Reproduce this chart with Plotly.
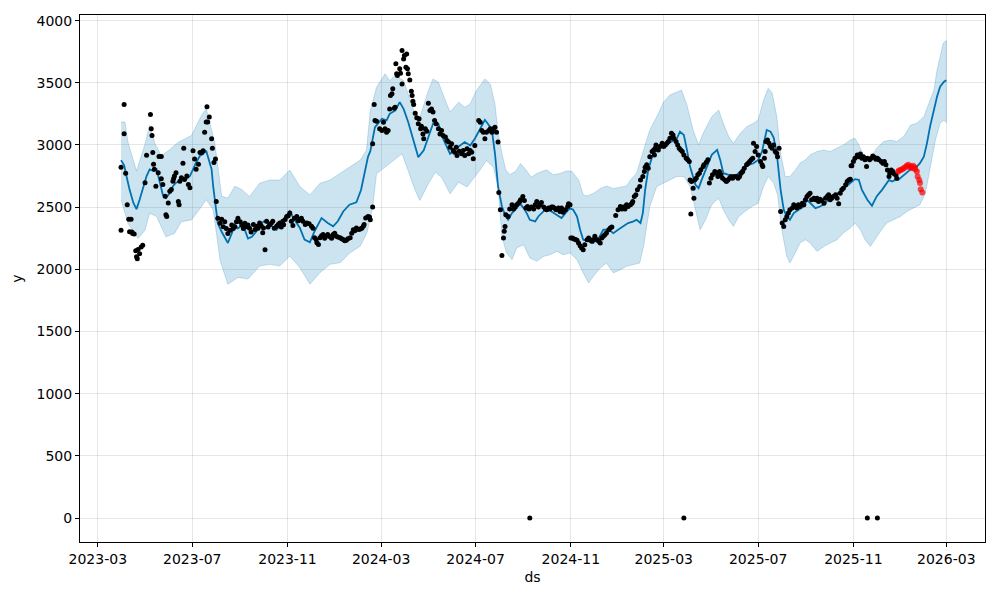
import pandas as pd
import plotly.graph_objects as go

BASE = "2023-03-01"  # day offsets below are counted from this date

# observed history points: (day offset, value)
observed = [
(30,2315),(30,2820),(34,3326),(34,3090),(36,2772),(38,2519),(40,2402),(41,2302),(43,2402),(44,2300),(45,2288),(47,2283),(49,2150),(50,2100),(51,2084),(52,2160),(54,2125),(56,2180),(58,2193),(61,2696),(63,2918),(68,3245),(69,3130),(70,3076),(71,2940),(72,2845),(73,2804),(75,2668),(78,2777),(79,2908),(82,2908),(82,2728),(84,2682),(87,2587),(88,2438),(89,2424),(91,2533),(93,2628),(95,2641),(97,2709),(98,2730),(99,2750),(101,2777),(104,2546),(105,2519),(106,2709),(108,2736),(110,2853),(111,2973),(112,2723),(115,2750),(117,2682),(119,2655),(123,2954),(125,2886),(127,2804),(130,2845),(132,2940),(134,2940),(136,2954),(138,3103),(140,3185),(141,3307),(142,3185),(144,3225),(147,3049),(148,2973),(150,2859),(152,2886),(153,2546),
(155,2410),(158,2370),(160,2402),(162,2342),(164,2383),(166,2329),(168,2288),(171,2315),(173,2356),(175,2329),(177,2342),(179,2383),(181,2410),(184,2383),(186,2356),(188,2329),(190,2370),(192,2342),(194,2356),
(196,2330),(198,2300),(201,2360),(203,2320),(205,2346),(207,2330),(209,2372),(211,2350),(213,2293),(214,2332),(216,2157),(218,2386),(220,2340),(222,2359),(224,2370),(226,2386),(228,2330),(231,2346),(233,2360),(235,2372),(237,2340),(239,2386),(240,2359),(242,2400),(244,2425),(246,2430),(248,2452),(250,2386),(252,2352),(254,2410),(257,2425),(259,2390),(261,2399),(263,2410),(265,2386),(268,2360),(270,2372),(273,2366),(276,2346),(278,2330),(280,2253),(282,2240),(283,2213),(285,2200),(287,2253),(289,2270),(291,2279),(293,2250),(295,2266),(297,2280),(300,2261),(302,2250),(304,2279),(306,2290),(308,2266),(310,2260),(313,2253),(315,2245),(317,2239),(319,2230),(321,2234),(323,2245),(326,2253),(328,2290),(330,2319),(332,2310),(334,2332),(337,2320),(339,2325),(341,2330),(343,2346),(344,2360),(346,2412),(349,2425),(351,2420),(352,2399),(355,2500),
(355,3009),(357,3325),(358,3197),(360,3190),(364,3130),(367,3116),(369,3183),(371,3130),(373,3103),(375,3116),(377,3290),(378,3397),(380,3411),(381,3451),(383,3296),(384,3304),(385,3652),(386,3572),(387,3558),(390,3612),(391,3577),(393,3491),(393,3759),(395,3692),(396,3719),(398,3625),(399,3732),(400,3612),(401,3572),(403,3523),(405,3432),(406,3397),(407,3352),(408,3325),(410,3255),(412,3218),(414,3170),(415,3210),(417,3130),(418,3150),(420,3089),(421,3049),(423,3130),(425,3110),(427,3336),(429,3277),(431,3290),(433,3264),(435,3197),(437,3170),(440,3130),(442,3089),(444,3116),(446,3076),(449,3063),(451,3036),(453,3023),(455,2982),(457,3009),(459,2956),(461,2942),(463,2982),(464,2915),(467,2950),(470,2929),(472,2956),(474,2915),(477,2969),(479,2929),(481,2956),(483,2942),(485,2889),(487,2996),(492,3197),(494,3183),(496,3116),(498,3103),(500,3049),(502,3103),(505,3116),(507,3130),(509,3103),(511,3130),(513,3143),(515,3103),(517,3023),
(518,2618),(520,2479),(522,2110),(524,2251),(525,2305),(526,2345),(527,2438),(530,2425),(532,2484),(535,2519),(537,2484),(539,2500),(541,2519),(543,2530),(545,2545),(546,2559),(549,2586),(551,2554),(553,2492),(555,2505),(557,2484),(560,2500),(563,2484),(565,2519),(567,2545),(569,2500),(571,2519),(573,2538),(576,2500),(578,2484),(580,2479),(582,2492),(584,2484),(586,2500),(588,2500),(590,2490),(592,2479),(595,2492),(597,2465),(599,2492),(601,2458),(604,2479),(607,2505),(608,2527),(610,2519),
(611,2251),(613,2251),(615,2243),(617,2240),(619,2233),(621,2211),(623,2190),(625,2171),(627,2158),(629,2198),(632,2238),(634,2251),(636,2238),(638,2225),(640,2238),(642,2265),(645,2238),(647,2225),(649,2211),(651,2251),(653,2265),(655,2278),(657,2291),(660,2318),(662,2332),(664,2340),(669,2433),(672,2479),(675,2505),(677,2484),(679,2500),(681,2484),(683,2519),(685,2505),
(688,2519),(690,2532),(691,2545),(693,2586),(695,2599),(697,2639),(700,2666),(701,2719),(704,2746),(706,2786),(707,2820),(709,2840),(711,2813),(713,2906),(716,2947),(718,2960),(719,2920),(720,2973),(721,3000),(724,2960),(726,2987),(729,3013),(731,2987),(733,3000),(735,3013),(737,3027),(739,3053),(741,3094),(743,3080),(744,3053),(747,3027),(749,3000),(751,2973),(753,2960),(755,2947),(757,2920),(760,2893),(762,2880),(764,2866),(765,2719),(766,2444),(767,2706),(769,2652),(770,2572),(771,2719),(773,2733),(775,2760),(777,2773),(779,2800),(782,2826),(783,2840),(786,2860),(788,2880),(790,2693),(792,2733),(794,2760),(797,2786),(799,2773),(801,2746),(803,2786),(805,2760),(807,2733),(810,2719),(812,2706),(814,2719),(816,2733),(818,2746),(820,2733),(822,2746),(825,2746),(827,2733),(829,2746),(831,2773),(833,2786),(835,2813),(838,2840),(840,2853),(842,2866),(844,2880),(846,2893),(847,3013),(849,2947),(851,2987),(853,2920),(856,2866),(858,2840),(859,2826),(861,2893),(862,2947),(863,3027),(865,3040),(867,3013),(869,2987),(871,2973),(873,3000),(875,2947),(877,2933),(878,2906),(880,2973),
(882,2465),(884,2372),(886,2345),(888,2398),(890,2425),(892,2452),(894,2479),(897,2492),(899,2519),(901,2505),(903,2492),(905,2519),(907,2505),(910,2532),(912,2519),(914,2559),(916,2586),(918,2599),(920,2612),(922,2559),(925,2572),(927,2559),(929,2572),(931,2545),(933,2564),(935,2553),(938,2532),(940,2572),(942,2586),(944,2599),(946,2559),(948,2572),(950,2586),(953,2599),(955,2572),(957,2527),(959,2612),(961,2639),(963,2652),(966,2679),(968,2706),(970,2719),(972,2725),(973,2832),(974,2832),(976,2866),(978,2893),(981,2920),(983,2906),(985,2928),(987,2893),(989,2906),(991,2880),(993,2826),(994,2893),(997,2880),(999,2893),(1001,2912),(1003,2901),(1005,2885),(1007,2893),(1009,2880),(1012,2866),(1014,2853),(1016,2866),(1018,2840),(1020,2799),(1022,2746),(1023,2773),(1025,2799),(1027,2786),(1029,2767),(1031,2759),(1032,2733),
(558,0),(757,0),(994,0),(1007,0),
]

# held-out points shown in red
test_points = [
(1034,2786),(1035,2795),(1037,2799),(1039,2805),(1041,2813),(1043,2820),(1045,2832),(1047,2840),(1049,2820),(1050,2826),(1052,2813),(1053,2832),(1055,2820),(1056,2805),(1058,2786),(1059,2746),(1061,2719),(1062,2693),(1063,2644),(1065,2618),
]

# forecast yhat
yhat = [
(30,2878),(34,2837),(37,2750),(41,2641),(46,2533),(50,2484),(54,2560),(59,2668),(63,2750),(67,2804),(72,2790),(76,2804),(80,2696),(84,2600),(88,2573),(93,2614),(97,2668),(101,2696),(106,2709),(110,2736),(114,2723),(119,2750),(123,2804),(127,2859),(132,2913),(136,2927),(140,2954),(142,2913),(147,2804),(149,2668),(152,2505),(155,2370),(160,2302),(164,2261),(168,2212),(173,2288),(177,2356),(181,2329),(186,2356),(190,2315),(194,2247),
(199,2261),(205,2306),(214,2386),(222,2359),(231,2319),(239,2386),(248,2465),(254,2399),(261,2332),(267,2239),(274,2218),(280,2306),(289,2412),(297,2372),(304,2346),(310,2386),(317,2465),(325,2519),(334,2538),(340,2638),(345,2771),(349,2904),
(352,2950),(358,3143),(367,3210),(373,3197),(377,3250),(384,3277),(390,3344),(395,3290),(401,3183),(408,3036),(414,2902),(421,2956),(427,3063),(433,3170),(440,3170),(446,3050),(455,2929),(461,2956),(468,2996),(474,3023),(481,2996),(487,3050),(494,3130),(500,3202),(505,3160),(509,3120),(513,2933),(517,2666),(522,2505),(526,2438),(530,2398),(535,2452),(541,2492),(545,2532),(550,2492),(554,2452),(558,2398),(565,2385),(569,2425),(573,2452),(580,2492),(586,2465),(593,2438),(599,2412),(604,2452),(610,2492),(614,2479),(619,2425),(623,2318),(627,2238),(634,2225),(640,2211),(647,2251),(653,2318),(660,2318),(666,2291),(672,2318),(679,2345),(685,2372),(692,2385),
(696,2398),(701,2372),(704,2452),(707,2639),(711,2799),(716,2906),(722,2960),(729,2987),(735,3013),(741,3027),(748,3053),(752,3107),(757,3080),(761,2960),(765,2826),(772,2679),(776,2652),(780,2719),(787,2826),(793,2920),(800,2960),(804,2880),(808,2773),(815,2760),(821,2733),(828,2773),(834,2813),(841,2840),(847,2853),(853,2880),(858,2947),(864,3120),(869,3107),(873,3060),(877,2933),(882,2639),(886,2479),(890,2425),(894,2398),(899,2452),(905,2479),(912,2505),(916,2559),(920,2532),(927,2492),(933,2505),(940,2532),(946,2586),(953,2599),(959,2626),(966,2666),(972,2693),(978,2725),(983,2719),(987,2639),(994,2559),(1000,2511),(1006,2586),(1013,2639),(1017,2679),(1022,2719),(1026,2706),(1030,2719),(1034,2719),(1039,2746),(1043,2760),(1050,2799),(1054,2826),(1058,2826),(1062,2853),(1067,2906),(1071,3013),(1075,3147),(1080,3281),(1084,3388),(1088,3468),(1093,3508),(1096,3521),
]

# uncertainty interval upper bound
yhat_upper = [
(30,3185),(35,3185),(39,3022),(50,2790),(61,3008),(67,3157),(74,3008),(82,2913),(91,2954),(104,3022),(121,3076),(134,3239),(140,3293),(151,3022),(160,2587),(168,2573),(177,2668),(186,2641),(196,2585),(209,2692),(222,2718),(235,2718),(248,2798),(261,2665),(274,2598),(287,2692),(300,2718),(313,2771),(326,2825),(339,2878),(347,2958),(352,3277),(360,3464),(371,3572),(377,3518),(384,3558),(395,3518),(401,3411),(408,3277),(416,3223),(427,3438),(433,3531),(440,3504),(449,3357),(455,3264),(466,3344),(474,3304),(481,3330),(489,3438),(500,3531),(507,3491),(513,3330),(517,3100),(522,2930),(527,2800),(532,2760),(540,2790),(546,2850),(553,2800),(560,2740),(567,2770),(575,2790),(580,2800),(588,2760),(597,2770),(605,2790),(612,2790),(621,2720),(627,2600),(632,2590),(640,2610),(649,2650),(657,2670),(666,2650),(675,2660),(683,2670),(688,2719),(696,2773),(705,2960),(713,3120),(722,3227),(731,3348),(739,3401),(748,3428),(754,3441),(761,3321),(769,3120),(776,3000),(782,3094),(793,3227),(802,3281),(808,3174),(815,3067),(821,3013),(830,3094),(838,3147),(847,3174),(853,3200),(860,3361),(866,3455),(871,3420),(877,3230),(882,2933),(888,2746),(894,2746),(901,2799),(907,2853),(914,2880),(920,2920),(929,2947),(938,2960),(946,2947),(955,2973),(963,3000),(972,3040),(978,3054),(983,3000),(989,2920),(998,2880),(1006,2973),(1015,3027),(1024,3040),(1032,3027),(1041,3067),(1050,3160),(1058,3174),(1067,3227),(1073,3334),(1080,3441),(1084,3600),(1088,3700),(1092,3820),(1096,3840),
]

# uncertainty interval lower bound
yhat_lower = [
(30,2560),(39,2370),(52,2247),(61,2315),(67,2451),(76,2424),(82,2342),(88,2261),(99,2288),(108,2383),(121,2397),(134,2505),(140,2560),(149,2478),(158,2071),(168,1880),(181,1935),(194,1921),(209,2026),(222,2040),(235,2026),(248,2106),(261,2013),(274,1880),(287,1973),(300,2040),(313,2053),(326,2133),(339,2186),(348,2300),(355,2500),(360,2768),(371,2822),(382,2875),(393,2929),(401,2795),(410,2634),(416,2554),(427,2688),(436,2781),(444,2741),(455,2607),(466,2701),(477,2661),(485,2728),(494,2800),(502,2875),(511,2820),(517,2666),(522,2265),(528,2131),(535,2077),(541,2171),(550,2198),(558,2091),(567,2064),(576,2104),(584,2117),(593,2144),(601,2117),(610,2131),(619,2077),(627,1971),(634,1890),(640,1944),(649,2010),(657,2050),(666,1971),(675,1997),(683,2024),(692,2037),(700,2050),(705,2184),(713,2505),(722,2666),(731,2693),(739,2719),(748,2746),(757,2746),(765,2666),(772,2479),(778,2318),(785,2398),(793,2519),(802,2572),(808,2479),(815,2398),(821,2345),(828,2425),(836,2465),(845,2505),(853,2532),(860,2666),(866,2746),(873,2693),(878,2600),(884,2300),(890,2104),(894,2051),(901,2131),(907,2211),(914,2238),(920,2211),(929,2144),(938,2184),(946,2211),(955,2238),(963,2291),(972,2332),(978,2372),(985,2318),(991,2238),(998,2184),(1004,2238),(1011,2305),(1019,2372),(1028,2398),(1037,2425),(1045,2465),(1054,2492),(1062,2519),(1069,2612),(1075,2799),(1082,3040),(1088,3174),(1093,3200),(1096,3180),
]

y_ticks = [0, 500, 1000, 1500, 2000, 2500, 3000, 3500, 4000]


def to_dates(days):
    return pd.Timestamp(BASE) + pd.to_timedelta(list(days), unit="D")


obs_d, obs_v = zip(*observed)
tst_d, tst_v = zip(*test_points)
yh_d, yh_v = zip(*yhat)
up_d, up_v = zip(*yhat_upper)
lo_d, lo_v = zip(*yhat_lower)

band_x = list(to_dates(up_d)) + list(to_dates(lo_d))[::-1]
band_y = list(up_v) + list(lo_v)[::-1]

fig = go.Figure()
fig.add_trace(go.Scatter(
    x=band_x, y=band_y, mode="lines", fill="toself",
    fillcolor="rgba(0,114,178,0.2)",
    line=dict(color="rgba(0,114,178,0.2)", width=1),
    hoverinfo="skip", showlegend=False,
))
fig.add_trace(go.Scatter(
    x=to_dates(yh_d), y=yh_v, mode="lines",
    line=dict(color="#0072B2", width=1.8), showlegend=False,
))
fig.add_trace(go.Scatter(
    x=to_dates(obs_d), y=obs_v, mode="markers",
    marker=dict(color="black", size=5), showlegend=False,
))
fig.add_trace(go.Scatter(
    x=to_dates(tst_d), y=tst_v, mode="markers",
    marker=dict(color="rgba(255,0,0,0.7)", size=6), showlegend=False,
))

axis_common = dict(
    showline=True, mirror=True, linecolor="black", linewidth=1,
    ticks="outside", ticklen=4, tickwidth=1, tickcolor="black",
    showgrid=True, gridcolor="rgba(128,128,128,0.2)", gridwidth=1,
    zeroline=False, automargin=False,
    tickfont=dict(family="DejaVu Sans", size=14, color="black"),
)

# page body has an 8px default margin, so the plot area is placed accordingly
fig.update_layout(
    width=1000, height=600,
    margin=dict(l=72, r=23, t=7, b=66),
    paper_bgcolor="white", plot_bgcolor="white",
    font=dict(family="DejaVu Sans", size=14, color="black"),
    xaxis=dict(
        **axis_common,
        range=["2023-02-06", "2026-04-20"],
        tick0="2023-03-01", dtick="M4", tickformat="%Y-%m",
        title=dict(text="ds", standoff=6, font=dict(size=14)),
    ),
    yaxis=dict(
        **axis_common,
        range=[-193, 4045],
        tickvals=y_ticks,
        title=dict(text="y", standoff=10, font=dict(size=14)),
    ),
)

fig.write_html("out.html")
